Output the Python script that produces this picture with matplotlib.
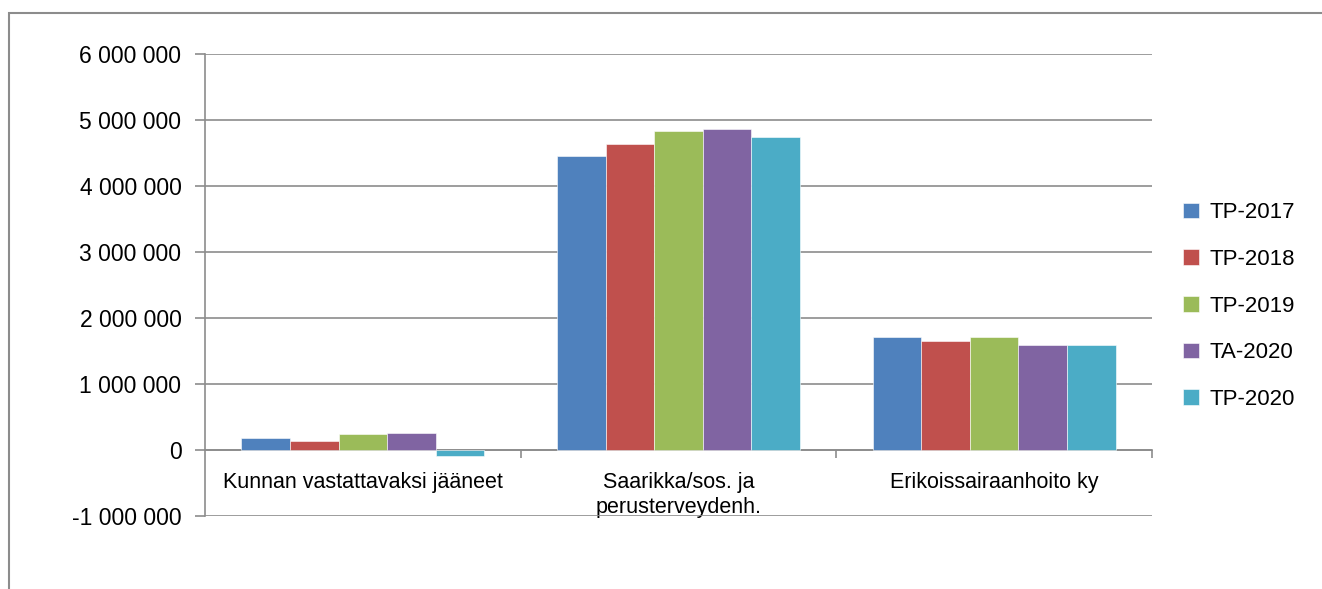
import numpy as np
import matplotlib
matplotlib.use("Agg")
import matplotlib.pyplot as plt
from matplotlib.ticker import FuncFormatter, FixedLocator
from matplotlib.patches import Rectangle

categories = ["Kunnan vastattavaksi jääneet", "Saarikka/sos. ja\nperusterveydenh.", "Erikoissairaanhoito ky"]
series = ["TP-2017", "TP-2018", "TP-2019", "TA-2020", "TP-2020"]
tp2017 = [180000, 4450000, 1710000]
tp2018 = [140000, 4630000, 1650000]
tp2019 = [240000, 4830000, 1710000]
ta2020 = [260000, 4860000, 1590000]
tp2020 = [-90000, 4740000, 1590000]
values = [tp2017, tp2018, tp2019, ta2020, tp2020]
colors = ["#4F81BD", "#C0504D", "#9BBB59", "#8064A2", "#4BACC6"]

plt.rcParams['font.family'] = ['Liberation Sans', 'DejaVu Sans']
fig = plt.figure(figsize=(13.22, 5.89), dpi=100)
ax = fig.add_axes([205 / 1322, 73 / 589, (1152 - 205) / 1322, (516 - 54) / 589])

# outer chart frame
fig.patches.append(Rectangle((9 / 1322, -0.1), 1.2, 1 - 13 / 589 + 0.1, transform=fig.transFigure,
                             fill=False, edgecolor="#8c8c8c", linewidth=1.5))

x = np.arange(len(categories))
w = 1 / 6.5
for i, (name, vals) in enumerate(zip(series, values)):
    ax.bar(x + (i - 2) * w, vals, w, color=colors[i], label=name, zorder=3,
           edgecolor="white", linewidth=0.4)

ax.set_xlim(-0.5, 2.5)
ax.set_ylim(-1000000, 6000000)
ax.set_yticks(np.arange(-1000000, 6000001, 1000000))
ax.yaxis.set_major_formatter(FuncFormatter(lambda v, p: f"{int(v):,}".replace(",", " ")))
ax.grid(axis="y", color="#8c8c8c", linewidth=1.2, zorder=0)

for s in ["top", "right"]:
    ax.spines[s].set_visible(False)
ax.spines["left"].set_color("#8c8c8c")
ax.spines["left"].set_linewidth(1.2)
ax.spines["bottom"].set_position(("data", 0))
ax.spines["bottom"].set_color("#8c8c8c")
ax.spines["bottom"].set_linewidth(1.2)

ax.set_xticks(x)
ax.set_xticklabels(categories, fontsize=15.5, linespacing=1.25)
ax.tick_params(axis="x", which="major", length=0, pad=16)
ax.xaxis.set_minor_locator(FixedLocator([0.5, 1.5, 2.5]))
ax.tick_params(axis="x", which="minor", length=6, color="#8c8c8c", width=1.2)
ax.tick_params(axis="y", length=7, color="#8c8c8c", width=1.2, labelsize=16.5, pad=10)

ax.legend(loc="center left", bbox_to_anchor=(1183 / 1322, 1 - 306 / 589), bbox_transform=fig.transFigure,
          frameon=False, fontsize=16, handlelength=0.7, handleheight=0.7, labelspacing=1.15,
          handletextpad=0.5, borderaxespad=0, borderpad=0)

fig.savefig("out.png", dpi=100)
